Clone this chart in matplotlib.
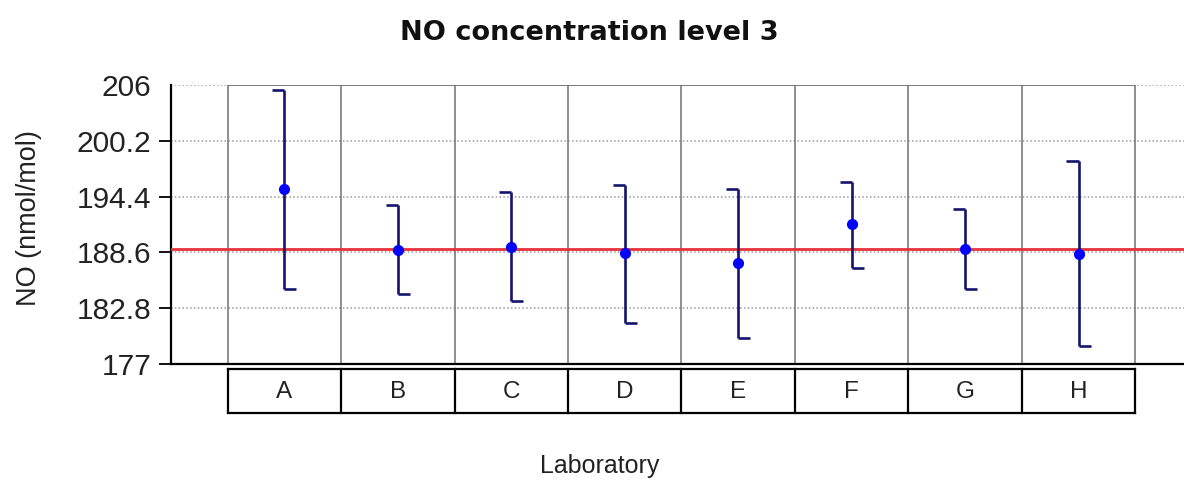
import matplotlib.pyplot as plt
import numpy as np

plt.rcParams.update(
    {
        "font.family": ["Liberation Sans", "DejaVu Sans"],
        "font.size": 16,
        "axes.unicode_minus": False,
    }
)

# data
labs = ["A", "B", "C", "D", "E", "F", "G", "H"]
means = [195.2, 188.9, 189.2, 188.5, 187.5, 191.5, 189.0, 188.4]
lower = [184.8, 184.3, 183.6, 181.3, 179.7, 187.0, 184.8, 178.9]
upper = [205.5, 193.5, 194.9, 195.6, 195.2, 195.9, 193.1, 198.1]
ref_value = 188.95
yticks = [177, 182.8, 188.6, 194.4, 200.2, 206]
ytick_labels = ["177", "182.8", "188.6", "194.4", "200.2", "206"]

fig = plt.figure(figsize=(11.84, 4.82), dpi=100)
ax = fig.add_axes([171 / 1184, 1 - 364 / 482, 1 - 171 / 1184, 279 / 482])

x = np.arange(len(labs))
cw = 0.106  # cap length

ax.set_xlim(-1.0, 7.93)
ax.set_ylim(177, 206)

# horizontal dotted grid
for yv in yticks[1:]:
    ax.axhline(yv, color="#9a9a9a", lw=1.1, ls=(0, (1, 1.5)), zorder=1)

# cell box (gray)
edges = np.arange(len(labs) + 1) - 0.5
ax.vlines(edges, 177, 206, color="#707070", lw=1.1, zorder=2)
ax.hlines(206, edges[0], edges[-1], color="#707070", lw=1.3, zorder=2)

# reference line
ax.axhline(ref_value, color="#e8303a", lw=2.0, zorder=3)

# error bars as brackets
navy = "#14146e"
ax.vlines(x, lower, upper, color=navy, lw=1.9, zorder=4)
ax.hlines(upper, x - cw, x, color=navy, lw=1.9, zorder=4)
ax.hlines(lower, x, x + cw, color=navy, lw=1.9, zorder=4)
ax.plot(x, means, "o", color="#0000ff", ms=7, zorder=5)

# spines
for s in ["top", "right"]:
    ax.spines[s].set_visible(False)
ax.spines["left"].set_linewidth(1.6)
ax.spines["bottom"].set_linewidth(1.6)

ax.set_yticks(yticks)
ax.set_yticklabels(ytick_labels, fontsize=21.5, color="#222222")
ax.tick_params(axis="y", length=9, width=1.3, pad=5)
ax.yaxis.get_major_ticks()[-1].tick1line.set_visible(False)

# label table under the axis
trans = ax.get_xaxis_transform()
yt, yb = -0.018, -0.176
ax.plot([edges[0], edges[-1]], [yt, yt], color="black", lw=1.6, transform=trans, clip_on=False)
ax.plot([edges[0], edges[-1]], [yb, yb], color="black", lw=1.6, transform=trans, clip_on=False)
for e in edges:
    ax.plot([e, e], [yt, yb], color="black", lw=1.6, transform=trans, clip_on=False)

ax.set_xticks(x)
ax.set_xticklabels(labs, fontsize=17.5, color="#222222")
ax.tick_params(axis="x", length=0, pad=12)

ax.set_xlabel("Laboratory", fontsize=18, color="#222222")
ax.xaxis.set_label_coords((600 - 171) / 1013, -0.322)
ax.set_ylabel("NO (nmol/mol)", fontsize=19.5, color="#222222")
ax.yaxis.set_label_coords(-0.127, 0.523)

fig.text(589 / 1184, 1 - 33 / 482, "NO concentration level 3", ha="center", va="center",
         fontsize=19.5, fontweight="bold", family="DejaVu Sans", color="#111111")

fig.savefig("out.png", dpi=100)
